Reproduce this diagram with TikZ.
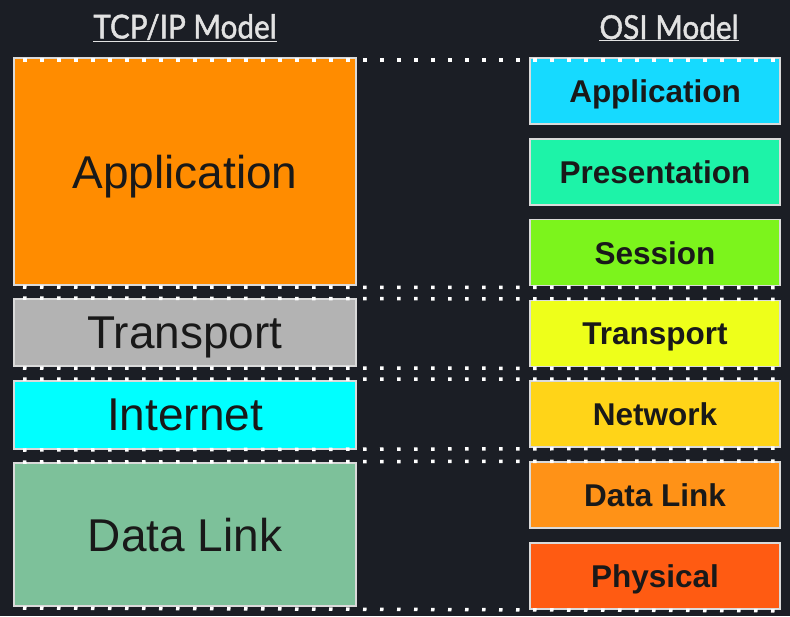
\documentclass[tikz,border=0pt]{standalone}
\usepackage{fontspec}
\setmainfont{Liberation Sans}
\newfontfamily\headfont[FakeBold=1.5]{Lato}
\usepackage{xcolor}
\usepackage{graphicx}
\usetikzlibrary{positioning}

\definecolor{bg}{HTML}{1B1E25}
\definecolor{edge}{HTML}{DADADA}
\definecolor{headgray}{HTML}{E2E2E2}
\definecolor{tapp}{HTML}{FF8C00}
\definecolor{ttrans}{HTML}{B3B3B3}
\definecolor{tint}{HTML}{00FFFF}
\definecolor{tlink}{HTML}{7DC19A}
\definecolor{oapp}{HTML}{16DAFF}
\definecolor{opres}{HTML}{1DF3A8}
\definecolor{osess}{HTML}{7CF41C}
\definecolor{otrans}{HTML}{EEFF1A}
\definecolor{onet}{HTML}{FFD418}
\definecolor{olink}{HTML}{FF9217}
\definecolor{ophys}{HTML}{FF5B12}

\begin{document}
\begin{tikzpicture}[
  x=1pt, y=-1pt,
  layer/.style={draw=edge, line width=1.5pt, inner sep=0pt, outer sep=0pt, text depth=0pt, text=black!90},
  tcp/.style={layer, minimum width=342pt, font=\fontsize{46}{50}\selectfont},
  osi/.style={layer, minimum width=250pt, minimum height=66pt, font=\bfseries\fontsize{31.5}{36}\selectfont},
  head/.style={text=headgray, font=\headfont\fontsize{33}{36}\selectfont},
  dotline/.style={draw=white, line width=3.5pt, dash pattern=on 3.5pt off 13.5pt},
  node distance=14pt,
]
% background
\fill[bg] (0,0) rectangle (790,616);
\useasboundingbox (0,0) rectangle (790,616);
% headings
\node[head] (tcphead) at (185,28) {\scalebox{0.9}[1]{\underline{TCP/IP Model}}};
\node[head] (osihead) at (669,28) {\scalebox{0.9}[1]{\underline{OSI Model}}};
% TCP/IP layers (left)
\node[tcp, fill=tapp, minimum height=227pt] (lapp) at (185,171.5) {Application};
\node[tcp, fill=ttrans, minimum height=67pt, below=14pt of lapp] (ltrans) {Transport};
\node[tcp, fill=tint, minimum height=68pt, below=15pt of ltrans] (lint) {Internet};
\node[tcp, fill=tlink, minimum height=143pt, below=14pt of lint] (llink) {Data Link};
% OSI layers (right)
\node[osi, fill=oapp] (rapp) at (655,91) {Application};
\node[osi, fill=opres, below=14.8pt of rapp] (rpres) {Presentation};
\node[osi, fill=osess, below=14.8pt of rpres] (rsess) {Session};
\node[osi, fill=otrans, below=14.8pt of rsess] (rtrans) {Transport};
\node[osi, fill=onet, below=14.8pt of rtrans] (rnet) {Network};
\node[osi, fill=olink, below=14.8pt of rnet] (rlink) {Data Link};
\node[osi, fill=ophys, below=14.8pt of rlink] (rphys) {Physical};
% dotted boundaries
\draw[dotline] ([xshift=9pt,yshift=-2pt]lapp.north west) -- ([yshift=-2pt]rapp.north east);
\draw[dotline] ([xshift=9pt,yshift=-2pt]lapp.south west) -- ([yshift=-2pt]rsess.south east);
\draw[dotline] ([xshift=9pt,yshift=1pt]ltrans.north west) -- ([yshift=1pt]rtrans.north east);
\draw[dotline] ([xshift=9pt,yshift=-2pt]ltrans.south west) -- ([yshift=-2pt]rtrans.south east);
\draw[dotline] ([xshift=9pt,yshift=2pt]lint.north west) -- ([yshift=2pt]rnet.north east);
\draw[dotline] ([xshift=9pt,yshift=-1pt]lint.south west) -- ([yshift=-1pt]rnet.south east);
\draw[dotline] ([xshift=9pt,yshift=1pt]llink.north west) -- ([yshift=1pt]rlink.north east);
\draw[dotline] ([xshift=9pt,yshift=-2pt]llink.south west) -- ([yshift=-2pt]rphys.south east);
\end{tikzpicture}
\end{document}
